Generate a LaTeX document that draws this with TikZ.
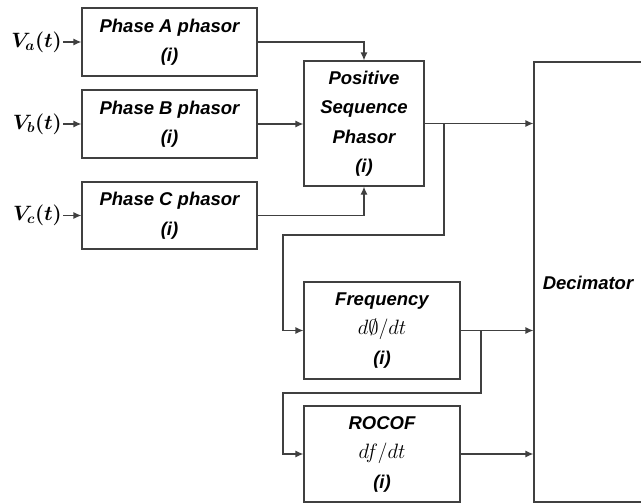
\documentclass[tikz,border=0pt]{standalone}
\usepackage{fontspec}
\setsansfont{Liberation Sans}
\usetikzlibrary{arrows.meta}
\begin{document}
\begin{tikzpicture}[x=1pt,y=-1pt,
  blk/.style={draw=black!75, line width=1.2pt, fill=white, align=center, inner sep=0pt,
    font=\sffamily\bfseries\itshape\fontsize{18.5}{29.5}\selectfont},
  ln/.style={draw=black!75, line width=1.2pt},
  arr/.style={ln, -{Latex[length=8pt,width=7pt]}},
  mth/.style={font=\fontsize{22}{24}\selectfont},
  vlab/.style={inner sep=1pt, font=\fontsize{22}{24}\selectfont\boldmath}]
\useasboundingbox (0,0) rectangle (641,504);
% blocks
\node[blk, minimum width=175pt, minimum height=68pt] (A) at (169.5,42) {Phase A phasor\\(\textit{i})};
\node[blk, minimum width=175pt, minimum height=68pt] (B) at (169.5,124) {Phase B phasor\\(\textit{i})};
\node[blk, minimum width=175pt, minimum height=67pt] (C) at (169.5,215.5) {Phase C phasor\\(\textit{i})};
\node[blk, minimum width=120pt, minimum height=125pt] (PS) at (364,123.5) {Positive\\Sequence\\Phasor\\(\textit{i})};
\node[blk, minimum width=156pt, minimum height=97pt] (F) at (382,330.5) {Frequency\\\mdseries\upshape\fontsize{22}{29.5}\selectfont$d\emptyset/dt$\\(\textit{i})};
\node[blk, minimum width=156pt, minimum height=96pt] (R) at (382,454) {ROCOF\\\mdseries\upshape\fontsize{22}{29.5}\selectfont$df/dt$\\(\textit{i})};
\node[blk, minimum width=109pt, minimum height=440pt] (D) at (588.5,282) {};
\node[font=\sffamily\bfseries\itshape\fontsize{18.5}{20}\selectfont] (DT) at (588,283) {Decimator};
% inputs
\node[vlab, anchor=east] (va) at (63,42) {$V_a(t)$};
\node[vlab, anchor=east] (vb) at (63,124) {$V_b(t)$};
\node[vlab, anchor=east] (vc) at (63,215.5) {$V_c(t)$};
\draw[arr] (va.east) -- (A.west);
\draw[arr] (vb.east) -- (B.west);
\draw[arr] (vc.east) -- (C.west);
% phase to positive sequence
\draw[arr] (A.east) -| (PS.north);
\draw[arr] (B.east) -- (B.east -| PS.west);
\draw[arr] (C.east) -| (PS.south);
% outputs
\draw[arr] (PS.east) -- (PS.east -| D.west);
\draw[arr] (F.east) -- (F.east -| D.west);
\draw[arr] (R.east) -- (R.east -| D.west);
% branches
\coordinate (b1) at (444,123.5);
\coordinate (t1) at (283,235);
\draw[arr] (b1) -- (b1 |- t1) -- (t1) |- (F.west);
\coordinate (b2) at (481,330.5);
\coordinate (t2) at (283,393);
\draw[arr] (b2) -- (b2 |- t2) -- (t2) |- (R.west);
\end{tikzpicture}
\end{document}
